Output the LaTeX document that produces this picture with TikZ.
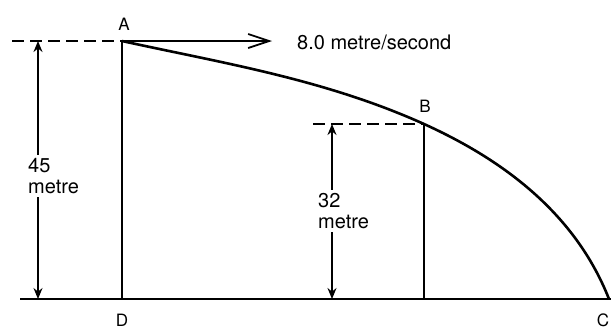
\documentclass[tikz,border=0pt]{standalone}
\usepackage{fontspec}
\setmainfont{TeX Gyre Heros}
\usetikzlibrary{arrows.meta}
\begin{document}
\begin{tikzpicture}[x=1pt,y=-1pt,
  solid line/.style={line width=1.8pt},
  curveline/.style={line width=2.6pt, line join=round},
  groundline/.style={line width=2.6pt},
  dashline/.style={line width=1.8pt, dash pattern=on 12pt off 6pt},
  dimarrow/.style={line width=1.6pt, {Stealth[length=11pt,width=9pt]}-{Stealth[length=11pt,width=9pt]}},
  velarrow/.style={line width=1.8pt, -{Straight Barb[length=21pt,width=14pt,line width=1.8pt]}},
  txt/.style={font=\fontsize{20}{21}\selectfont, inner sep=0pt, align=left},
  lbl/.style={font=\fontsize{17}{18}\selectfont, inner sep=0pt},
  dimtxt/.style={txt, fill=white, inner sep=3pt}]
\useasboundingbox (0,0) rectangle (611,330);
% key points
\coordinate (A) at (122,41);
\coordinate (B) at (424,124);
\coordinate (C) at (609,299);
\coordinate (D) at (122,299);
\coordinate (E) at (424,299);
\coordinate (gl) at (20,299);
\coordinate (Cend) at (611,299);
\coordinate (topdash) at (12,41);
\coordinate (bdash) at (313,124);
\coordinate (vtip) at (272,41);
\coordinate (d1t) at (38,41);
\coordinate (d1b) at (38,299);
\coordinate (d2t) at (332,124);
\coordinate (d2b) at (332,299);
% ground
\draw[groundline] (gl) -- (Cend);
% verticals
\draw[solid line] (A) -- (D);
\draw[solid line] (B) -- (E);
% dashed references
\draw[dashline] (topdash) -- (A);
\draw[dashline] (bdash) -- (B);
% velocity
\draw[velarrow] (A) -- (vtip);
\node[txt, anchor=west] (vel) at (297,42) {8.0 metre/second};
% trajectory
\draw[curveline] (A) .. controls (222,63) and (324,79) .. (B)
                     .. controls (490,154) and (572,205) .. (C);
% dimensions
\draw[dimarrow] (d1t) -- (d1b);
\node[dimtxt, anchor=west] (h1) at (25,176) {45\\metre};
\draw[dimarrow] (d2t) -- (d2b);
\node[dimtxt, anchor=west] (h2) at (315,211) {32\\metre};
% labels
\node[lbl] (la) at (124,24) {A};
\node[lbl] (lb) at (425,106) {B};
\node[lbl] (ld) at (122,320) {D};
\node[lbl] (lc) at (603,320) {C};
\end{tikzpicture}
\end{document}
